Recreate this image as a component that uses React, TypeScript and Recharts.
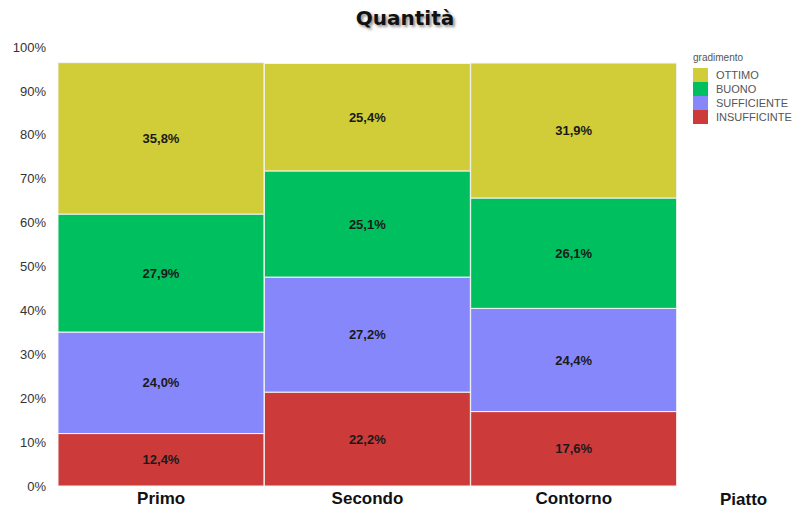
import { BarChart, Bar, XAxis, YAxis, LabelList } from "recharts";

const piatti = ["Primo", "Secondo", "Contorno"];
const gradimenti = ["INSUFFICINTE", "SUFFICIENTE", "BUONO", "OTTIMO"];
const insufficinte = [12.4, 22.2, 17.6];
const sufficiente = [24.0, 27.2, 24.4];
const buono = [27.9, 25.1, 26.1];
const ottimo = [35.8, 25.4, 31.9];
const colori = ["#cc3a3a", "#8787fc", "#00bf5f", "#d0cd38"];
const yTicks = [0, 10, 20, 30, 40, 50, 60, 70, 80, 90, 100];

// the stacks stop a little under the 100% line in the original
const SCALA = 1.038;

const serie = [insufficinte, sufficiente, buono, ottimo];
const data = piatti.map((p, i) => {
  const row: Record<string, string | number> = { piatto: p };
  gradimenti.forEach((g, k) => {
    row[g] = serie[k][i];
  });
  return row;
});

const fmt = (v: unknown) => `${Number(v).toFixed(1).replace(".", ",")}%`;

function LegendBox() {
  const order = [3, 2, 1, 0];
  return (
    <div
      style={{
        position: "absolute",
        left: 693,
        top: 52,
        fontFamily: "Arial, 'Liberation Sans', sans-serif",
        color: "#555",
      }}
    >
      <div style={{ fontSize: 10, marginBottom: 5 }}>gradimento</div>
      {order.map((k) => (
        <div key={k} style={{ display: "flex", alignItems: "center", height: 14 }}>
          <span
            style={{
              width: 15,
              height: 14,
              background: colori[k],
              display: "inline-block",
              marginRight: 8,
            }}
          />
          <span style={{ fontSize: 11 }}>{gradimenti[k]}</span>
        </div>
      ))}
    </div>
  );
}

export default function App() {
  return (
    <div style={{ position: "absolute", left: 0, top: 0, width: 798, height: 511, background: "#fff" }}>
      <div
        style={{
          position: "absolute",
          top: 6,
          left: 0,
          width: 810,
          textAlign: "center",
          fontFamily: "Verdana, 'DejaVu Sans', sans-serif",
          fontWeight: "bold",
          fontSize: 20,
          color: "#111",
          textShadow: "2px 2px 3px rgba(0,0,0,0.45)",
        }}
      >
        Quantità
      </div>
      <BarChart
        width={798}
        height={511}
        data={data}
        barCategoryGap={0}
        margin={{ top: 47, right: 121, bottom: 0, left: 0 }}
        style={{ fontFamily: "Arial, 'Liberation Sans', sans-serif" }}
      >
        <XAxis
          dataKey="piatto"
          height={25}
          tickLine={false}
          axisLine={false}
          tickSize={0}
          tickMargin={6}
          tick={{ fontSize: 17, fontWeight: "bold", fill: "#111" }}
          label={{
            value: "Piatto",
            position: "right",
            offset: 43,
            style: { fontSize: 17, fontWeight: "bold", fill: "#111" },
          }}
        />
        <YAxis
          domain={[0, 100 * SCALA]}
          ticks={yTicks.map((t) => t * SCALA)}
          width={58}
          tickLine={false}
          axisLine={false}
          tickSize={0}
          tickMargin={12}
          tickFormatter={(v) => `${Math.round(v / SCALA)}%`}
          tick={{ fontSize: 13, fill: "#333" }}
        />
        {gradimenti.map((g, k) => (
          <Bar
            key={g}
            dataKey={g}
            stackId="a"
            fill={colori[k]}
            stroke="#f4f4f4"
            strokeWidth={1}
            isAnimationActive={false}
          >
            <LabelList
              dataKey={g}
              position="center"
              formatter={fmt}
              style={{ fontSize: 13, fontWeight: "bold", fill: "#1a1a1a" }}
            />
          </Bar>
        ))}
      </BarChart>
      <LegendBox />
    </div>
  );
}
